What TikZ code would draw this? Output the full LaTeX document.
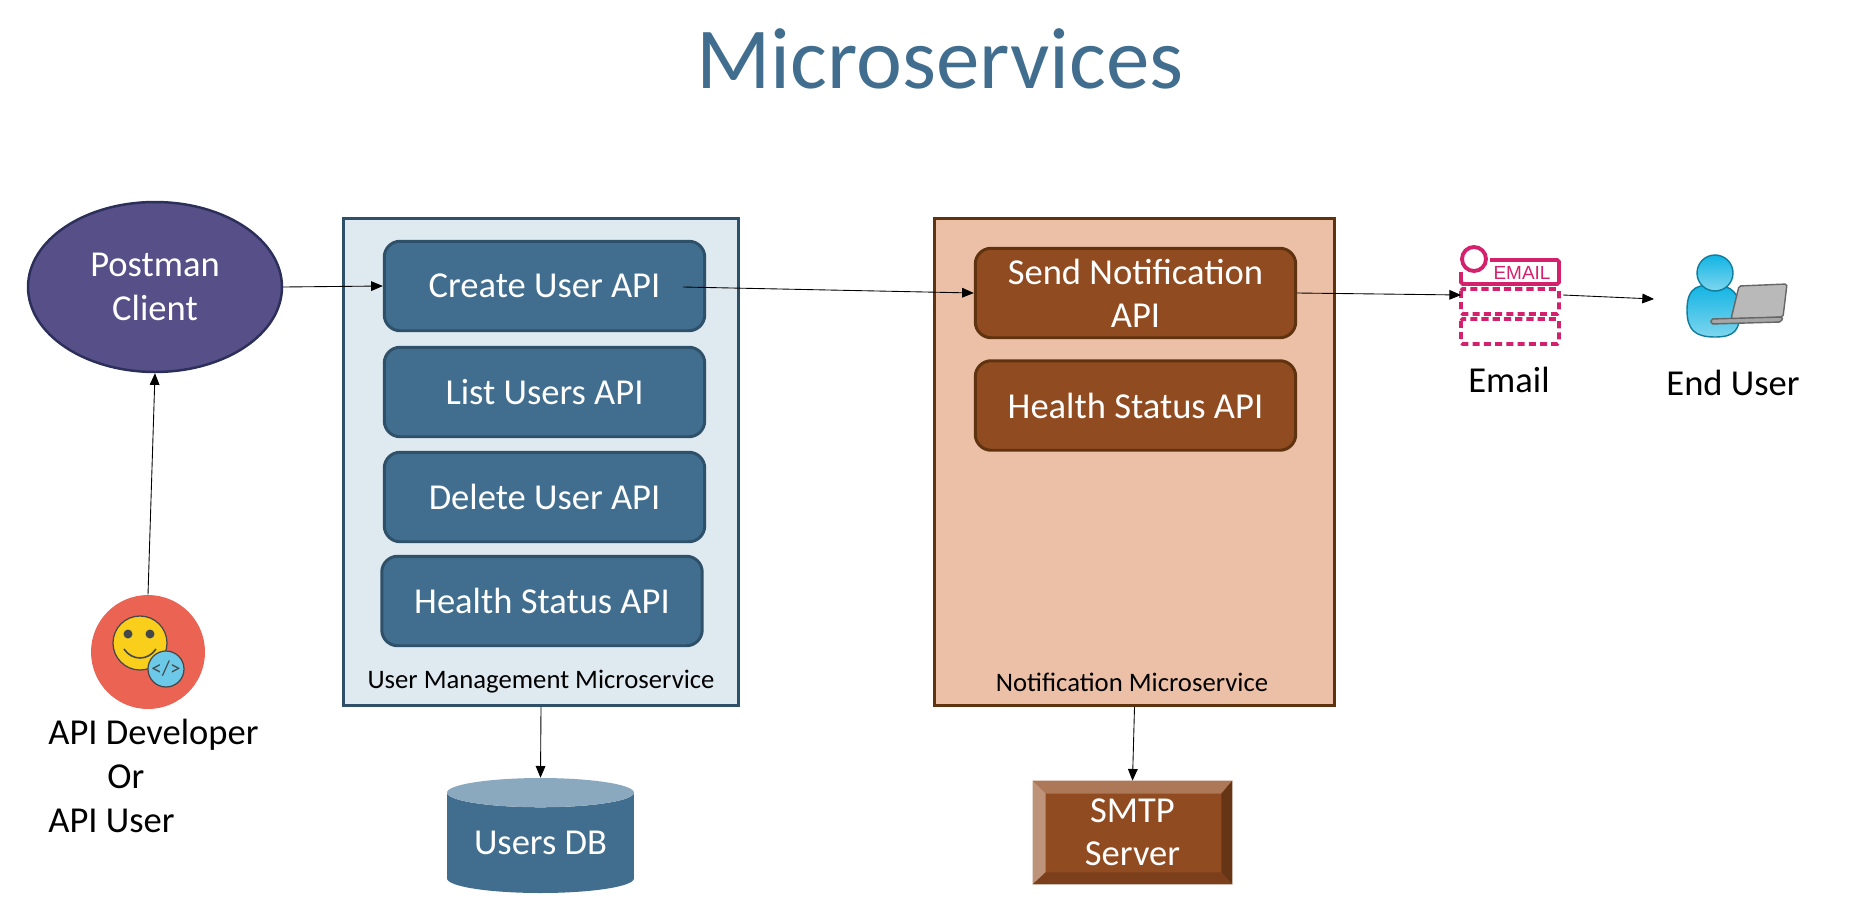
\documentclass[tikz,border=0pt]{standalone}
\usepackage{fontspec}
\setmainfont{Carlito}
\newfontfamily\mailfont{Liberation Sans}
\usetikzlibrary{shapes.geometric, arrows}
\definecolor{blueapi}{HTML}{416E8E}
\definecolor{blueline}{HTML}{2F5069}
\definecolor{bluepale}{HTML}{DFE9F0}
\definecolor{bluetop}{HTML}{8AA8BE}
\definecolor{brownapi}{HTML}{914B20}
\definecolor{brownline}{HTML}{5F3210}
\definecolor{peach}{HTML}{ECC0A7}
\definecolor{plum}{HTML}{574F87}
\definecolor{plumline}{HTML}{2B2F5A}
\definecolor{mailred}{HTML}{D3226B}
\definecolor{coral}{HTML}{EB6353}
\definecolor{smiley}{HTML}{F9CF1B}
\definecolor{badge}{HTML}{6CC9E8}
\definecolor{inkgray}{HTML}{45484A}
\definecolor{skyblue}{HTML}{12B4E4}
\definecolor{skypale}{HTML}{7FD6EE}
\definecolor{skyline}{HTML}{0F7C9C}
\tikzset{
    api/.style={draw, rounded corners=9pt, line width=1.7pt, minimum width=6.41cm, minimum height=1.79cm, inner sep=0pt, text=white, align=center, font=\fontsize{20.8}{24.5}\selectfont},
    userapi/.style={api, draw=blueline, fill=blueapi},
    noteapi/.style={api, draw=brownline, fill=brownapi},
    service/.style={draw, line width=1.7pt, minimum width=7.92cm, minimum height=9.74cm, inner sep=0pt},
    small/.style={font=\fontsize{15.2}{18}\selectfont},
    big/.style={font=\fontsize{20.8}{25}\selectfont, align=left},
    person/.style={top color=skyblue, bottom color=skypale, draw=skyline, line width=0.8pt},
    dashbox/.style={mailred, line width=2.2pt, dash pattern=on 4pt off 2.4pt, rounded corners=1pt},
    conn/.style={-triangle 45, line width=0.5pt}
}
\begin{document}
\begin{tikzpicture}[x=0.02cm, y=-0.02cm]
    \useasboundingbox (0,0) rectangle (1853,916);
    \node[text=blueapi, font=\fontsize{49.5}{60}\selectfont] (title) at (940,59) {Microservices};

    \node[ellipse, draw=plumline, fill=plum, line width=1.4pt, minimum width=5.08cm, minimum height=3.4cm, inner sep=0pt, text=white, align=center, font=\fontsize{20.8}{25}\selectfont] (postman) at (155,287) {Postman\\Client};

    \node[service, draw=blueline, fill=bluepale] (usersvc) at (541,462) {};
    \node[userapi] (create) at (544.5,286) {Create User API};
    \node[userapi] (list) at (544.5,392) {List Users API};
    \node[userapi] (delete) at (544.5,497) {Delete User API};
    \node[userapi] (health) at (542,601) {Health Status API};
    \node[small] (userlabel) at (541,682) {User Management Microservice};
    \coordinate (createout) at (683,287);

    \node[service, draw=brownline, fill=peach, minimum width=8cm] (notesvc) at (1134.5,462) {};
    \node[noteapi] (send) at (1135.5,293) {Send Notification\\API};
    \node[noteapi] (notehealth) at (1135.5,405.5) {Health Status API};
    \node[small] (notelabel) at (1132,682) {Notification Microservice};

    \node[cylinder, shape border rotate=90, shape aspect=0.22, cylinder uses custom fill, cylinder body fill=blueapi, cylinder end fill=bluetop, minimum width=3.74cm, minimum height=2.3cm, inner sep=0pt, text=white, font=\fontsize{20.8}{25}\selectfont] (usersdb) at (540.5,843) {Users DB};

    \node[fill=brownapi, minimum width=3.98cm, minimum height=2.06cm, inner sep=0pt] (smtp) at (1132.5,832.5) {};
    \fill[brownapi!75!white] (smtp.north west) -- (smtp.north east) -- ([shift={(-11,13)}]smtp.north east) -- ([shift={(13,13)}]smtp.north west) -- cycle;
    \fill[brownapi!60!white] (smtp.north west) -- (smtp.south west) -- ([shift={(13,-12)}]smtp.south west) -- ([shift={(13,13)}]smtp.north west) -- cycle;
    \fill[brownapi!70!black] (smtp.north east) -- (smtp.south east) -- ([shift={(-11,-12)}]smtp.south east) -- ([shift={(-11,13)}]smtp.north east) -- cycle;
    \fill[brownapi!85!black] (smtp.south west) -- (smtp.south east) -- ([shift={(-11,-12)}]smtp.south east) -- ([shift={(13,-12)}]smtp.south west) -- cycle;
    \node[text=white, align=center, font=\fontsize{20.8}{24.5}\selectfont] (smtplabel) at (smtp.center) {SMTP\\Server};

    \node[circle, fill=coral, minimum size=2.28cm, inner sep=0pt] (developer) at (148,652) {};
    \fill[smiley, draw=inkgray, line width=0.7pt] (140,643) circle (27);
    \fill[inkgray] (128,634) circle (4.5) (150,634) circle (4.5);
    \draw[inkgray, line width=0.9pt] (124,649) .. controls (132,661) and (148,661) .. (156,649);
    \fill[badge, draw=inkgray, line width=0.7pt] (166,669) circle (18);
    \node[text=inkgray, font=\fontsize{12}{12}\selectfont, inner sep=0pt] (codemark) at (166,669) {</>};
    \node[big, anchor=north west, inner sep=0pt] (devlabel) at (48,719) {API Developer\\\hspace{1.18cm}Or\\API User};

    \coordinate (emailin) at (1461,295);
    \coordinate (emailout) at (1563,295);
    \draw[mailred, line width=2.2pt, rounded corners=1pt] (1490,260) -- (1559,260) -- (1559,284) -- (1461,284) -- (1461,272);
    \draw[mailred, line width=2.2pt, fill=white] (1474,259) circle (12);
    \node[text=mailred, font=\mailfont\fontsize{10.8}{12}\selectfont, inner sep=0pt] (emailtext) at (1522,273) {EMAIL};
    \draw[dashbox] (1461,289) rectangle (1559,314);
    \draw[dashbox] (1461,319) rectangle (1559,344);
    \node[font=\fontsize{20.8}{25}\selectfont] (emaillabel) at (1509,380) {Email};

    \coordinate (enduser) at (1654,299);
    \path[person] (1687,310) .. controls (1687,285) and (1700,285) .. (1715,285) .. controls (1732,285) and (1740,295) .. (1740,310) .. controls (1740,330) and (1735,337) .. (1715,337) .. controls (1695,337) and (1687,330) .. (1687,310) -- cycle;
    \path[person] (1715,273) circle (18);
    \fill[gray!55, draw=gray!80!black, line width=0.8pt, rounded corners=1pt] (1739,286) -- (1787,284) -- (1783,317) -- (1731,319) -- cycle;
    \fill[gray!70, draw=gray!80!black, line width=0.8pt, rounded corners=1pt] (1711,319) -- (1783,317) -- (1781,322) -- (1711,324) -- cycle;
    \node[font=\fontsize{20.8}{25}\selectfont] (enduserlabel) at (1733,383) {End User};

    \draw[conn] (postman.east) -- (create.west);
    \draw[conn] (createout) -- (send.west);
    \draw[conn] (send.east) -- (emailin);
    \draw[conn] (emailout) -- (enduser);
    \draw[conn] (developer.north) -- (postman.south);
    \draw[conn] (usersvc.south) -- (usersdb.north);
    \draw[conn] (notesvc.south) -- (smtp.north);
\end{tikzpicture}
\end{document}
